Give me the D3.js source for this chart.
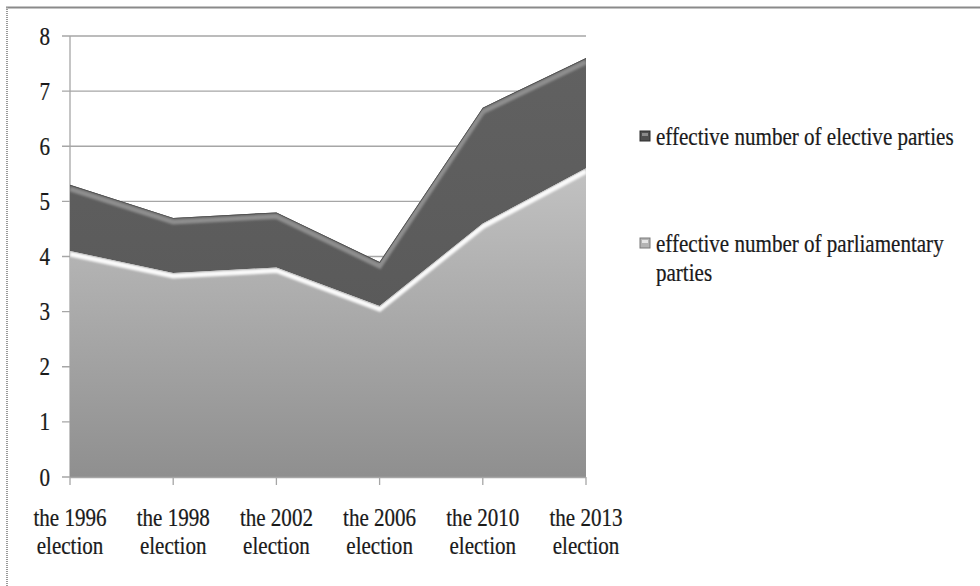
<!DOCTYPE html>
<html>
<head>
<meta charset="utf-8">
<script src="https://cdn.jsdelivr.net/npm/d3@7"></script>
<style>
  html, body { margin: 0; padding: 0; background: #ffffff; }
  svg { display: block; }
  text { font-family: "Liberation Serif", "Times New Roman", serif; fill: #1a1a1a; }
</style>
</head>
<body>
<svg id="chart" width="980" height="586"></svg>
<script>
// Election categories along the horizontal axis
const categories = ["1996", "1998", "2002", "2006", "2010", "2013"];
// Effective number of elective parties
const electiveValues = [5.3, 4.7, 4.8, 3.9, 6.7, 7.6];
// Effective number of parliamentary parties
const parliamentaryValues = [4.1, 3.7, 3.8, 3.1, 4.6, 5.6];
// Vertical axis ticks
const yTicks = [0, 1, 2, 3, 4, 5, 6, 7, 8];
// Legend entries (text lines per entry)
const legendLabels = [
  ["effective number of elective parties"],
  ["effective number of parliamentary", "parties"]
];

const svg = d3.select("#chart");
const W = 980, H = 586;
const FONT = 26;      // label size
const SQUEEZE = 0.81; // narrow the serif face horizontally

const x = d3.scalePoint().domain(categories).range([70, 586]).padding(0);
const y = d3.scaleLinear().domain([0, 8]).range([477, 36]);

// Helper: place condensed text at (px, py)
function label(parent, px, py, str, anchor) {
  return parent.append("text")
    .attr("transform", `translate(${px},${py}) scale(${SQUEEZE},1)`)
    .attr("text-anchor", anchor || "start")
    .attr("font-size", FONT)
    .attr("stroke", "#1a1a1a").attr("stroke-width", 0.25)
    .text(str);
}

const defs = svg.append("defs");

// Soft blur for the bevel highlights
defs.append("filter").attr("id", "soft").attr("x", "-5%").attr("y", "-20%").attr("width", "110%").attr("height", "140%")
  .append("feGaussianBlur").attr("stdDeviation", 1.2);

// Gradient for the light (parliamentary) area
const gLight = defs.append("linearGradient").attr("id", "gLight")
  .attr("gradientUnits", "userSpaceOnUse").attr("x1", 0).attr("x2", 0).attr("y1", y(5.6)).attr("y2", y(0));
gLight.append("stop").attr("offset", "0%").attr("stop-color", "#c2c2c2");
gLight.append("stop").attr("offset", "100%").attr("stop-color", "#8f8f8f");

// Gradient for the dark (elective) area
const gDark = defs.append("linearGradient").attr("id", "gDark")
  .attr("gradientUnits", "userSpaceOnUse").attr("x1", 0).attr("x2", 0).attr("y1", y(7.6)).attr("y2", y(3));
gDark.append("stop").attr("offset", "0%").attr("stop-color", "#616161");
gDark.append("stop").attr("offset", "100%").attr("stop-color", "#5a5a5a");

// Outer frame (top and left edges visible)
svg.append("line").attr("x1", 6).attr("x2", W).attr("y1", 7.5).attr("y2", 7.5)
  .attr("stroke", "#8a8a8a").attr("stroke-width", 2);
svg.append("line").attr("x1", 7).attr("x2", 7).attr("y1", 7).attr("y2", H)
  .attr("stroke", "#9a9a9a").attr("stroke-width", 2).attr("stroke-dasharray", "1,1");

// Horizontal gridlines with tick stubs on the left
svg.append("g").selectAll("line").data(yTicks).join("line")
  .attr("x1", 62).attr("x2", 586)
  .attr("y1", d => y(d)).attr("y2", d => y(d))
  .attr("stroke", "#a6a6a6").attr("stroke-width", 1.3);

// Vertical axis line
svg.append("line").attr("x1", 70).attr("x2", 70).attr("y1", y(8)).attr("y2", y(0))
  .attr("stroke", "#a6a6a6").attr("stroke-width", 1.3);

// Y tick labels
const yLab = svg.append("g");
yTicks.forEach(d => label(yLab, 50, y(d) + 8.5, d, "end"));

const areaGen = vals => d3.area()
  .x((d, i) => x(categories[i]))
  .y0(y(0)).y1(d => y(d))(vals);
const lineGen = vals => d3.line()
  .x((d, i) => x(categories[i]))
  .y(d => y(d))(vals);

function drawArea(vals, id, fill, rimColor, rimOffset, rimWidth, edgeColor) {
  defs.append("clipPath").attr("id", "clip-" + id)
    .append("path").attr("d", areaGen(vals));
  const g = svg.append("g");
  g.append("path").attr("d", areaGen(vals)).attr("fill", fill);
  const inner = g.append("g").attr("clip-path", "url(#clip-" + id + ")");
  // bevel highlight running along the top edge
  inner.append("path").attr("d", lineGen(vals))
    .attr("transform", "translate(0," + rimOffset + ")")
    .attr("fill", "none").attr("stroke", rimColor).attr("stroke-width", rimWidth)
    .attr("filter", "url(#soft)");
  // outline at the very top
  inner.append("path").attr("d", lineGen(vals))
    .attr("fill", "none").attr("stroke", edgeColor).attr("stroke-width", 1.4);
  // shaded right edge and bottom band
  const xr = x(categories[categories.length - 1]);
  inner.append("line")
    .attr("x1", xr - 1.5).attr("x2", xr - 1.5).attr("y1", 0).attr("y2", y(0))
    .attr("stroke", "#5a5a5a").attr("stroke-width", 3).attr("filter", "url(#soft)").attr("opacity", 0.7);
  inner.append("line")
    .attr("x1", 60).attr("x2", 600).attr("y1", y(0) - 2).attr("y2", y(0) - 2)
    .attr("stroke", "#6a6a6a").attr("stroke-width", 4).attr("filter", "url(#soft)").attr("opacity", 0.8);
  inner.append("line")
    .attr("x1", 71.5).attr("x2", 71.5).attr("y1", 0).attr("y2", y(0))
    .attr("stroke", "#d0d0d0").attr("stroke-width", 2).attr("filter", "url(#soft)").attr("opacity", 0.6);
}

drawArea(electiveValues, "elective", "url(#gDark)", "#8e8e8e", 4, 5, "#4a4a4a");
drawArea(parliamentaryValues, "parl", "url(#gLight)", "#fafafa", 3, 5, "#c8c8c8");

// Category axis baseline and ticks
svg.append("line").attr("x1", 70).attr("x2", 586).attr("y1", y(0) + 0.5).attr("y2", y(0) + 0.5)
  .attr("stroke", "#a6a6a6").attr("stroke-width", 1.3);
svg.append("g").selectAll("line").data(categories).join("line")
  .attr("x1", d => x(d)).attr("x2", d => x(d))
  .attr("y1", y(0)).attr("y2", y(0) + 8)
  .attr("stroke", "#a6a6a6").attr("stroke-width", 1.3);

// Category labels on two lines
const catG = svg.append("g");
categories.forEach(c => {
  label(catG, x(c), 526, "the " + c, "middle");
  label(catG, x(c), 554, "election", "middle");
});

// Legend
const legendY = [145, 252];
const markerFill = ["#4e4e4e", "#b4b4b4"];
const markerEdge = ["#2e2e2e", "#7a7a7a"];
const lg = svg.append("g");
legendLabels.forEach((lines, i) => {
  lg.append("rect").attr("x", 640).attr("y", legendY[i] - 14).attr("width", 10).attr("height", 10)
    .attr("fill", markerFill[i]).attr("stroke", markerEdge[i]).attr("stroke-width", 1);
  lg.append("rect").attr("x", 642).attr("y", legendY[i] - 12).attr("width", 6).attr("height", 3)
    .attr("fill", i === 0 ? "#8a8a8a" : "#e6e6e6");
  lines.forEach((ln, j) => label(lg, 656, legendY[i] + j * 29, ln, "start"));
});
</script>
</body>
</html>
